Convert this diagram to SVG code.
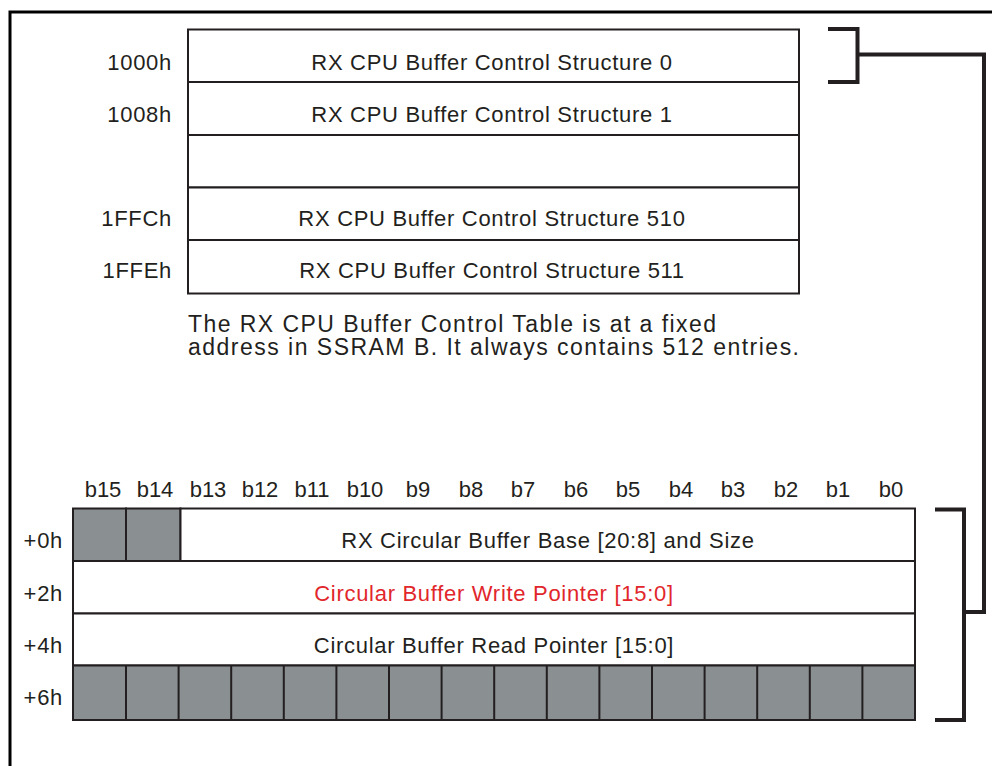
<svg xmlns="http://www.w3.org/2000/svg" width="992" height="766" viewBox="0 0 992 766">
<style>
.t{font-family:"Liberation Sans",Arial,sans-serif;font-size:22px;fill:#231f20;letter-spacing:0.7px}
.b{font-family:"Liberation Sans",Arial,sans-serif;font-size:22px;fill:#231f20;text-anchor:middle}
.c{text-anchor:middle}
.r{text-anchor:end}
.red{fill:#e1262c}
.box{fill:#fff;stroke:#231f20;stroke-width:2}
.g{fill:#8a8f91;stroke:#231f20;stroke-width:2}
.ln{fill:none;stroke:#231f20;stroke-width:4}
.d{font-family:"Liberation Sans",Arial,sans-serif;font-size:23px;fill:#231f20}
</style>
<rect width="992" height="766" fill="#fff"/>
<path d="M10,766 V12 H992" fill="none" stroke="#000" stroke-width="3"/>

<g id="table">
<g id="row0"><rect class="box" x="188" y="29.5" width="611" height="52.5"/><text class="t r" x="172" y="70">1000h</text><text class="t c" x="492" y="70">RX CPU Buffer Control Structure 0</text></g>
<g id="row1"><rect class="box" x="188" y="82" width="611" height="53"/><text class="t r" x="172" y="122">1008h</text><text class="t c" x="492" y="122">RX CPU Buffer Control Structure 1</text></g>
<g id="rowgap"><rect class="box" x="188" y="135" width="611" height="52.5"/></g>
<g id="row510"><rect class="box" x="188" y="187.5" width="611" height="52.5"/><text class="t r" x="172" y="226">1FFCh</text><text class="t c" x="492" y="226">RX CPU Buffer Control Structure 510</text></g>
<g id="row511"><rect class="box" x="188" y="240" width="611" height="53.5"/><text class="t r" x="172" y="278">1FFEh</text><text class="t c" x="492" y="278">RX CPU Buffer Control Structure 511</text></g>
</g>

<g id="note">
<text class="d" x="188" y="331.5" textLength="528" lengthAdjust="spacing">The RX CPU Buffer Control Table is at a fixed</text>
<text class="d" x="188" y="355" textLength="611" lengthAdjust="spacing">address in SSRAM B. It always contains 512 entries.</text>
</g>

<g id="bits">
<text class="b" x="103" y="497">b15</text>
<text class="b" x="155" y="497">b14</text>
<text class="b" x="208" y="497">b13</text>
<text class="b" x="260" y="497">b12</text>
<text class="b" x="312" y="497">b11</text>
<text class="b" x="365" y="497">b10</text>
<text class="b" x="418" y="497">b9</text>
<text class="b" x="471" y="497">b8</text>
<text class="b" x="523" y="497">b7</text>
<text class="b" x="576" y="497">b6</text>
<text class="b" x="628" y="497">b5</text>
<text class="b" x="681" y="497">b4</text>
<text class="b" x="733" y="497">b3</text>
<text class="b" x="786" y="497">b2</text>
<text class="b" x="838" y="497">b1</text>
<text class="b" x="891" y="497">b0</text>
</g>

<g id="word0">
<rect class="g" x="73" y="508.5" width="53" height="52.5"/>
<rect class="g" x="126" y="508.5" width="54.5" height="52.5"/>
<rect class="box" x="180.5" y="508.5" width="734.5" height="52.5"/>
<text class="t r" x="63" y="548">+0h</text>
<text class="t c" x="548" y="548">RX Circular Buffer Base [20:8] and Size</text>
</g>
<g id="word2">
<rect class="box" x="73" y="561" width="842" height="52.5"/>
<text class="t r" x="63" y="601">+2h</text>
<text class="t c red" x="494" y="601">Circular Buffer Write Pointer [15:0]</text>
</g>
<g id="word4">
<rect class="box" x="73" y="613.5" width="842" height="52"/>
<text class="t r" x="63" y="653">+4h</text>
<text class="t c" x="494" y="653">Circular Buffer Read Pointer [15:0]</text>
</g>
<g id="word6">
<rect class="g" x="73" y="665.5" width="842" height="54.5"/>
<path d="M126,665.5V720 M178.6,665.5V720 M231.2,665.5V720 M283.8,665.5V720 M336.4,665.5V720 M389,665.5V720 M441.6,665.5V720 M494.2,665.5V720 M546.8,665.5V720 M599.4,665.5V720 M652,665.5V720 M704.6,665.5V720 M757.2,665.5V720 M809.8,665.5V720 M862.4,665.5V720" stroke="#231f20" stroke-width="2"/>
<text class="t r" x="63" y="705">+6h</text>
</g>

<g id="connectors">
<path class="ln" d="M828,29 H857.5 V82 H828"/>
<path class="ln" d="M857.5,54.5 H984 V612 H964"/>
<path class="ln" d="M935,509.5 H964 V720 H935"/>
</g>
</svg>
